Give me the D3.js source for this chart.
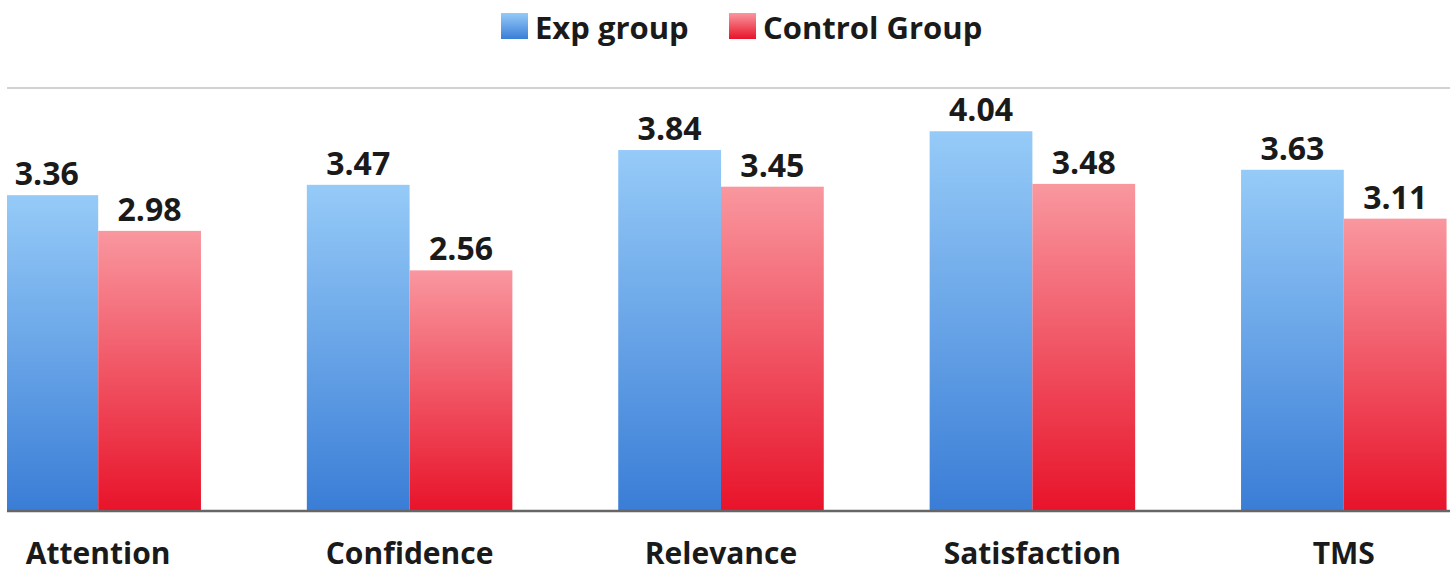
<!DOCTYPE html>
<html>
<head>
<meta charset="utf-8">
<script src="https://cdn.jsdelivr.net/npm/d3@7"></script>
<style>
  html, body { margin: 0; padding: 0; background: #fff; }
  svg { display: block; }
  text { font-family: "Open Sans", "Noto Sans", sans-serif; font-weight: bold; fill: #1a1a1a; }
</style>
</head>
<body>
<svg id="chart" width="1450" height="573"></svg>
<script>
const categories = ["Attention", "Confidence", "Relevance", "Satisfaction", "TMS"];
const seriesNames = ["Exp group", "Control Group"];
const expValues = [3.36, 3.47, 3.84, 4.04, 3.63];
const controlValues = [2.98, 2.56, 3.45, 3.48, 3.11];
const yMax = 4.5;

const W = 1450, H = 573;
const plot = { left: 7, right: 1450, top: 88, bottom: 511 };

const svg = d3.select("#chart");
const defs = svg.append("defs");

function grad(id, top, bottom) {
  const g = defs.append("linearGradient").attr("id", id)
    .attr("x1", 0).attr("y1", 0).attr("x2", 0).attr("y2", 1);
  g.append("stop").attr("offset", "0%").attr("stop-color", top);
  g.append("stop").attr("offset", "100%").attr("stop-color", bottom);
}
grad("gBlue", "#96cbf8", "#3a7dd6");
grad("gRed", "#f9979f", "#e8132a");
const fills = ["url(#gBlue)", "url(#gRed)"];

defs.append("clipPath").attr("id", "plotClip")
  .append("rect").attr("x", plot.left).attr("y", 0)
  .attr("width", plot.right - plot.left).attr("height", H);

const x0 = d3.scaleBand().domain(categories)
  .range([-57.5, 1499.5]).paddingInner(0.34).paddingOuter(0.17);
const x1 = d3.scaleBand().domain(seriesNames).range([0, x0.bandwidth()]);
const y = d3.scaleLinear().domain([0, yMax]).range([plot.bottom, plot.top]);

const data = categories.map((c, i) => ({
  cat: c,
  vals: [
    { s: seriesNames[0], v: expValues[i] },
    { s: seriesNames[1], v: controlValues[i] }
  ]
}));

// top gridline
svg.append("line")
  .attr("x1", plot.left).attr("x2", plot.right)
  .attr("y1", y(yMax)).attr("y2", y(yMax))
  .attr("stroke", "#d2d2d2").attr("stroke-width", 2);

const g = svg.append("g").attr("clip-path", "url(#plotClip)");
const groups = g.selectAll("g.cat").data(data).join("g")
  .attr("class", "cat")
  .attr("transform", d => `translate(${x0(d.cat)},0)`);

groups.selectAll("rect").data(d => d.vals).join("rect")
  .attr("x", d => x1(d.s))
  .attr("width", x1.bandwidth())
  .attr("y", d => y(d.v))
  .attr("height", d => y(0) - y(d.v))
  .attr("fill", (d, i) => fills[i]);

groups.selectAll("text.val").data(d => d.vals).join("text")
  .attr("class", "val")
  .attr("x", d => x1(d.s) + x1.bandwidth() / 2)
  .attr("y", d => y(d.v) - 10)
  .attr("text-anchor", "middle")
  .attr("font-size", 32)
  .text(d => d.v.toFixed(2));

// baseline
svg.append("line")
  .attr("x1", plot.left).attr("x2", plot.right)
  .attr("y1", y(0)).attr("y2", y(0))
  .attr("stroke", "#666").attr("stroke-width", 2.5);

// category labels
svg.selectAll("text.cat").data(categories).join("text")
  .attr("class", "cat")
  .attr("x", d => x0(d) + x0.bandwidth() / 2)
  .attr("y", 564)
  .attr("text-anchor", "middle")
  .attr("font-size", 30)
  .text(d => d);

// legend
const legendX = [501, 729];
const leg = svg.selectAll("g.leg").data(seriesNames).join("g")
  .attr("class", "leg")
  .attr("transform", (d, i) => `translate(${legendX[i]},13)`);
leg.append("rect").attr("width", 27).attr("height", 26)
  .attr("fill", (d, i) => fills[i]);
leg.append("text").attr("x", 34).attr("y", 26)
  .attr("font-size", 31)
  .text(d => d);
</script>
</body>
</html>
